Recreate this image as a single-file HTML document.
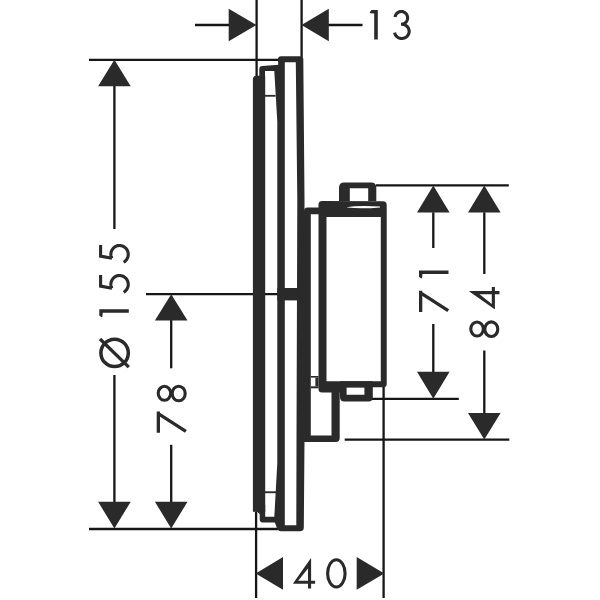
<!DOCTYPE html>
<html><head><meta charset="utf-8"><style>
html,body{margin:0;padding:0;background:#fff;width:600px;height:600px;overflow:hidden;font-family:"Liberation Sans",sans-serif;}
svg{display:block;}
</style></head><body>
<svg width="600" height="600" viewBox="0 0 600 600">
<rect width="600" height="600" fill="#fff"/>
<g stroke="#161616" fill="none"><line x1="195" y1="25" x2="250" y2="25" stroke-width="2.3"/><line x1="307" y1="25" x2="362.5" y2="25" stroke-width="2.3"/><line x1="256.6" y1="0" x2="256.6" y2="76" stroke-width="2.3"/><line x1="301.6" y1="0" x2="301.6" y2="57" stroke-width="2.3"/><line x1="89" y1="59.8" x2="279" y2="59.8" stroke-width="2.3"/><line x1="114.4" y1="86" x2="114.4" y2="229" stroke-width="2.3"/><line x1="114.4" y1="375" x2="114.4" y2="502" stroke-width="2.3"/><line x1="89" y1="529" x2="278" y2="529" stroke-width="2.3"/><line x1="146" y1="294.1" x2="278" y2="294.1" stroke-width="2.3"/><line x1="171.2" y1="320" x2="171.2" y2="368.3" stroke-width="2.3"/><line x1="171.2" y1="444.8" x2="171.2" y2="502" stroke-width="2.3"/><line x1="376" y1="185.4" x2="508.8" y2="185.4" stroke-width="2.3"/><line x1="433.3" y1="212.3" x2="433.3" y2="248" stroke-width="2.3"/><line x1="433.3" y1="324" x2="433.3" y2="372" stroke-width="2.3"/><line x1="372" y1="398.8" x2="458.8" y2="398.8" stroke-width="2.3"/><line x1="484.3" y1="212.3" x2="484.3" y2="274" stroke-width="2.3"/><line x1="484.3" y1="350.5" x2="484.3" y2="413" stroke-width="2.3"/><line x1="344.7" y1="439.6" x2="509.3" y2="439.6" stroke-width="2.3"/><line x1="256.1" y1="512" x2="256.1" y2="598" stroke-width="2.3"/><line x1="383.6" y1="384" x2="383.6" y2="598" stroke-width="2.3"/></g>
<g fill="#2a2a2a" stroke="none"><polygon points="256.5,25 228.7,8.7 228.7,41.3"/><polygon points="301.5,25 328.8,8.7 328.8,41.3"/><polygon points="114.4,59.8 98.1,86.3 130.7,86.3"/><polygon points="114.4,528.6 98.1,501.7 130.7,501.7"/><polygon points="171.2,294.3 154.9,320.5 187.5,320.5"/><polygon points="171.2,528.6 154.9,501.7 187.5,501.7"/><polygon points="433.3,185.6 417.0,212.5 449.6,212.5"/><polygon points="433.3,398.8 417.0,371.8 449.6,371.8"/><polygon points="484.3,185.6 468.0,212.5 500.6,212.5"/><polygon points="484.3,439.6 468.0,413 500.6,413"/><polygon points="255.7,573.4 283,557.1 283,589.7"/><polygon points="384.3,573.4 356.7,557.1 356.7,589.7"/></g>
<g fill="#2a2a2a" stroke="none" fill-rule="evenodd"><path d="M252.9,79.5 Q252.9,75.8 256.5,75.8 L265.2,75.8 L265.2,512 L257.5,512 L252.9,511.7 Z"/><path d="M259.3,80 L259.3,69 Q259.3,66 262.3,66 L279,64.8 L279,71.1 L265,71.1 L265,80 Z"/><path d="M259.7,505 L265.2,505 L265.2,516.7 L278.5,516.7 L278.5,522.4 L262.5,522.4 Q259.7,522.4 259.7,519.6 Z M256.5,511 L259.8,511 L259.8,514.5 Z"/><path d="M278.2,58 L284.8,58 L284.8,530 L277.7,530 L274.3,521 L274.3,517 L277.3,463 L277.3,122 L274.3,71 L274.3,66 L278.2,65.5 Z"/><path d="M278,62.3 L278,59 Q278,56.3 281,56.3 L300,56.3 Q303.2,56.3 303.3,59 L304.5,200 L304.5,440 L303.8,527.5 Q303.8,531.3 300,531.3 L281,531.3 Q277.7,531.3 277.7,528 L277.7,525.3 L296.3,525.3 L296.5,440 L297.3,200 L295.8,62.3 Z"/><rect x="265" y="94.9" width="10.50" height="1.80" rx="0"/><rect x="265" y="491.3" width="11.00" height="1.90" rx="0"/><path d="M277.3,288 L298.7,288 L298.7,300.4 L277.3,300.4 Z"/><path d="M304,214.2 L304,211 Q304,207.5 307.5,207.5 L319.5,207.5 L319.5,214.2 L310.8,214.2 L310.8,442 L304,442 Z"/><path d="M318.5,204.5 Q318.5,201 322,201 L383,201.3 Q386.7,201.3 386.7,205 L386.7,384 Q386.7,387.3 383.5,387.3 L340,387.3 L340,392.5 L322,392.5 Q318.5,392.5 318.5,389 Z M326.5,217 L326.5,381.3 L380.8,381.3 L380.8,217 Z"/><path d="M339,201 L339,187.6 Q339,182.4 344.2,182.4 L371.2,182.4 Q376.3,182.4 376.3,187.6 L376.3,201 L368.2,201 L368.2,188.2 L349.8,188.2 L349.8,201 Z"/><path d="M340,381.3 L372.8,381.3 L372.8,397 Q372.8,401.5 368.5,401.5 L344.5,401.5 Q340,401.5 340,397 Z M346.6,387.4 L346.6,394.7 L364.4,394.7 L364.4,387.4 Z"/><path d="M331.5,390 L339.7,390 L339.7,438 Q339.7,442 335.7,442 L304,442 L304,435.5 L331.5,435.5 Z"/><rect x="310.8" y="376" width="7.70" height="1.60" rx="0"/><rect x="315.4" y="377.6" width="3.10" height="8.70" rx="0"/><rect x="310.8" y="386.3" width="7.70" height="2.00" rx="0"/></g>
<path d="M347,207.3 Q356,205.2 380,206.4 L380,207.4 Q362,209.2 347,207.6 Z" fill="#fff"/>
<g stroke="#2a2a2a" fill="none" stroke-width="3.1"><g transform="translate(369.7,10.1)"><path d="M8.1,0 L8.1,29.5 L4.5,29.5 L4.5,3.4 L0.5,3.1 L0,2.2 L1.9,0 Z" fill="#2a2a2a" stroke="none"/></g><g transform="translate(392.9,10.0)"><path d="M2.16,7.02 L2.30,6.30 L2.53,5.60 L2.83,4.94 L3.20,4.31 L3.65,3.73 L4.15,3.21 L4.71,2.75 L5.33,2.36 L5.98,2.04 L6.66,1.80 L7.37,1.64 L8.09,1.56 L8.82,1.56 L9.54,1.65 L10.24,1.83 L10.92,2.08 L11.57,2.41 L12.17,2.82 L12.73,3.29 L13.23,3.82 L13.66,4.40 L14.02,5.04 L14.31,5.71 L14.52,6.41 L14.65,7.13 L14.70,7.86 L14.66,8.59 L14.54,9.31 L14.34,10.01 L14.06,10.68 L13.71,11.32 L13.28,11.91 L12.79,12.45 L12.24,12.93 L11.64,13.34 L11.00,13.68 L10.33,13.95 L9.62,14.13 L8.91,14.23 L8.18,14.25"/><path d="M8.64,14.25 L9.48,14.27 L10.32,14.38 L11.13,14.58 L11.91,14.87 L12.66,15.25 L13.35,15.70 L13.99,16.23 L14.56,16.82 L15.06,17.48 L15.48,18.18 L15.81,18.93 L16.05,19.70 L16.20,20.50 L16.25,21.31 L16.21,22.12 L16.07,22.92 L15.83,23.70 L15.51,24.45 L15.10,25.16 L14.61,25.82 L14.05,26.42 L13.41,26.95 L12.72,27.41 L11.98,27.80 L11.20,28.09 L10.39,28.30 L9.56,28.42 L8.72,28.45 L7.88,28.38 L7.06,28.22 L6.26,27.98 L5.49,27.64 L4.77,27.23 L4.11,26.73 L3.50,26.17 L2.97,25.54 L2.51,24.86 L2.14,24.14 L1.85,23.37 L1.66,22.58"/></g><g transform="translate(293.2,558.2)"><path d="M17.6,0 L0,25 L0,25.6 L14.8,25.6 L14.8,30.2 L17.9,30.2 L17.9,25.6 L21.9,25.6 L21.9,22.5 L17.9,22.5 L17.9,0.3 Z M14.8,10.2 L14.8,22.5 L4.9,22.5 Z" fill="#2a2a2a" stroke="none" fill-rule="evenodd"/></g><g transform="translate(326.0,558.2)"><ellipse cx="10.35" cy="15.2" rx="8.75" ry="13.6"/></g><g transform="translate(99.2,368.3) rotate(-90)"><circle cx="15.4" cy="15.4" r="13.7" stroke-width="3.5"/><path d="M29.3,0.8 L1.2,29.6" stroke-width="3.3"/></g><g transform="translate(99.3,317.3) rotate(-90)"><path d="M8.1,0 L8.1,29.5 L4.5,29.5 L4.5,3.4 L0.5,3.1 L0,2.2 L1.9,0 Z" fill="#2a2a2a" stroke="none"/></g><g transform="translate(99.3,294.7) rotate(-90)"><path d="M19.7,1.3 L8.6,1.3 L6.4,12.6" stroke-linejoin="miter"/><path d="M6.26,12.50 L7.22,12.09 L8.21,11.79 L9.24,11.61 L10.28,11.55 L11.33,11.61 L12.36,11.79 L13.35,12.08 L14.31,12.48 L15.22,13.00 L16.05,13.61 L16.81,14.31 L17.47,15.10 L18.04,15.96 L18.50,16.87 L18.85,17.83 L19.08,18.83 L19.19,19.84 L19.18,20.86 L19.04,21.88 L18.79,22.87 L18.42,23.82 L17.93,24.72 L17.34,25.57 L16.66,26.34 L15.89,27.02 L15.04,27.62 L14.12,28.11 L13.15,28.49 L12.15,28.76 L11.11,28.91 L10.07,28.95 L9.03,28.86 L8.01,28.66 L7.02,28.34 L6.07,27.90 L5.18,27.37 L4.36,26.73 L3.63,26.01 L2.99,25.21 L2.44,24.33"/></g><g transform="translate(99.3,264.7) rotate(-90)"><path d="M19.7,1.3 L8.6,1.3 L6.4,12.6" stroke-linejoin="miter"/><path d="M6.26,12.50 L7.22,12.09 L8.21,11.79 L9.24,11.61 L10.28,11.55 L11.33,11.61 L12.36,11.79 L13.35,12.08 L14.31,12.48 L15.22,13.00 L16.05,13.61 L16.81,14.31 L17.47,15.10 L18.04,15.96 L18.50,16.87 L18.85,17.83 L19.08,18.83 L19.19,19.84 L19.18,20.86 L19.04,21.88 L18.79,22.87 L18.42,23.82 L17.93,24.72 L17.34,25.57 L16.66,26.34 L15.89,27.02 L15.04,27.62 L14.12,28.11 L13.15,28.49 L12.15,28.76 L11.11,28.91 L10.07,28.95 L9.03,28.86 L8.01,28.66 L7.02,28.34 L6.07,27.90 L5.18,27.37 L4.36,26.73 L3.63,26.01 L2.99,25.21 L2.44,24.33"/></g><g transform="translate(156.7,432.8) rotate(-90)"><path d="M0,0 L21.2,0 L21.2,3.3 L0,3.3 Z M18.21,-0.09 L20.99,1.69 L2.79,30.09 L0.01,28.31 Z" fill="#2a2a2a" stroke="none"/></g><g transform="translate(156.7,402.3) rotate(-90)"><ellipse cx="9" cy="7.75" rx="7" ry="6.25"/><ellipse cx="8.8" cy="22" rx="7.3" ry="6.5"/></g><g transform="translate(419.0,312.0) rotate(-90)"><path d="M0,0 L21.2,0 L21.2,3.3 L0,3.3 Z M18.21,-0.09 L20.99,1.69 L2.79,30.09 L0.01,28.31 Z" fill="#2a2a2a" stroke="none"/></g><g transform="translate(419.0,278.6) rotate(-90)"><path d="M8.1,0 L8.1,29.5 L4.5,29.5 L4.5,3.4 L0.5,3.1 L0,2.2 L1.9,0 Z" fill="#2a2a2a" stroke="none"/></g><g transform="translate(469.3,338.0) rotate(-90)"><ellipse cx="9" cy="7.75" rx="7" ry="6.25"/><ellipse cx="8.8" cy="22" rx="7.3" ry="6.5"/></g><g transform="translate(469.3,309.0) rotate(-90)"><path d="M17.6,0 L0,25 L0,25.6 L14.8,25.6 L14.8,30.2 L17.9,30.2 L17.9,25.6 L21.9,25.6 L21.9,22.5 L17.9,22.5 L17.9,0.3 Z M14.8,10.2 L14.8,22.5 L4.9,22.5 Z" fill="#2a2a2a" stroke="none" fill-rule="evenodd"/></g></g>
</svg>
</body></html>
